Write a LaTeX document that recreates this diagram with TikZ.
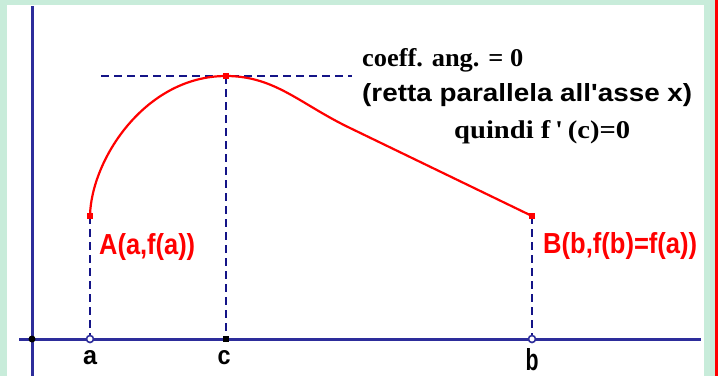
\documentclass[tikz,border=0pt]{standalone}
\usepackage{fontspec}
\setmainfont{Liberation Serif}
\newfontfamily\arialfont{Liberation Sans}
\usepackage{graphicx}
\definecolor{bggreen}{RGB}{200,236,218}
\definecolor{axisblue}{RGB}{45,45,155}
\definecolor{dashblue}{RGB}{20,20,135}
\definecolor{curvered}{RGB}{255,0,0}
\newcommand\fitt[3]{\resizebox{#1pt}{#2pt}{#3}}
\tikzset{
  axisline/.style={draw=axisblue, line width=3pt},
  dashline/.style={draw=dashblue, line width=2.4pt, dash pattern=on 8pt off 5pt},
  curveline/.style={draw=curvered, line width=2.2pt},
  redpt/.style={rectangle, fill=curvered, minimum size=6pt, inner sep=0pt},
  blackpt/.style={circle, fill=black, minimum size=7pt, inner sep=0pt},
  openpt/.style={circle, fill=white, draw=axisblue, line width=1.6pt, minimum size=7pt, inner sep=0pt},
  redlabel/.style={anchor=base west, inner sep=0pt, text=curvered},
  axlabel/.style={anchor=base, inner sep=0pt, text=black},
  toplabel/.style={anchor=base west, inner sep=0pt, text=black}
}
\begin{document}
\begin{tikzpicture}[x=1pt,y=-1pt]
\fill[bggreen] (0,0) rectangle (718,376);
\fill[white] (7,5) rectangle (704,376);
\fill[red] (715,0) rectangle (718,376);
\useasboundingbox (0,0) rectangle (718,376);
% coordinates
\coordinate (ytop) at (32,6);
\coordinate (ybot) at (32,376);
\coordinate (xl) at (19,339);
\coordinate (xr) at (701,339);
\coordinate (O) at (32,339);
\coordinate (pa) at (90,339);
\coordinate (pc) at (226,339);
\coordinate (pb) at (532,339);
\coordinate (A) at (90,216);
\coordinate (B) at (532,216);
\coordinate (C) at (226,76);
\coordinate (M) at (350,128);
\coordinate (tl) at (101,76);
\coordinate (tr) at (352,76);
% axes
\draw[axisline] (ytop) -- (ybot);
\draw[axisline] (xl) -- (xr);
% dashed lines
\draw[dashline] (tl) -- (tr);
\draw[dashline] (A) -- (pa);
\draw[dashline] (C) -- (pc);
\draw[dashline] (B) -- (pb);
% curve
\draw[curveline] (A) .. controls (91,160) and (145,76) .. (C)
  .. controls (275,76) and (300,104) .. (M) -- (B);
% points
\node[blackpt] (nO) at (O) {};
\node[openpt] (na) at (pa) {};
\node[openpt] (nb) at (pb) {};
\node[rectangle, fill=black, minimum size=6pt, inner sep=0pt] (nc) at (pc) {};
\node[redpt] (nA) at (A) {};
\node[redpt] (nB) at (B) {};
\node[redpt] (nC) at (C) {};
% labels
\node[redlabel] (lA) at (99,254) {\fitt{96}{21}{\arialfont\bfseries A(a,f(a))}};
\node[redlabel] (lB) at (543,253) {\fitt{154}{21}{\arialfont\bfseries B(b,f(b)=f(a))}};
\node[axlabel] (la) at (90,364) {\fitt{14}{14}{\arialfont\bfseries a}};
\node[axlabel] (lc) at (224,364) {\fitt{13}{14}{\arialfont\bfseries c}};
\node[axlabel] (lb) at (532,370) {\fitt{13}{22}{\arialfont\bfseries b}};
\node[toplabel] (t1) at (362,66) {\fitt{161}{18}{\bfseries coeff. ang. = 0}};
\node[toplabel] (t2) at (362,101) {\fitt{330}{18}{\arialfont\bfseries (retta parallela all\textquotesingle asse x)}};
\node[toplabel] (t3) at (454,138) {\fitt{176}{18}{\bfseries quindi f\,\textquotesingle\,(c)=0}};
\end{tikzpicture}
\end{document}
